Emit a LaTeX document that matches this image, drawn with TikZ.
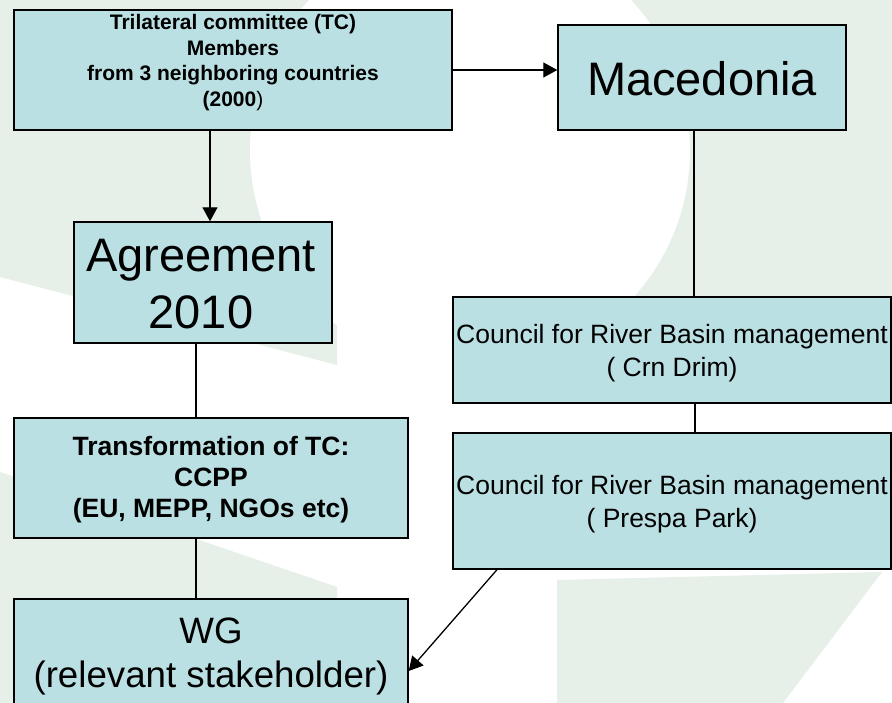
\documentclass[tikz,border=0pt]{standalone}
\usepackage{fontspec}
\setmainfont{Liberation Sans}
\usetikzlibrary{arrows.meta}
\definecolor{bggreen}{HTML}{E6F0E8}
\definecolor{boxfill}{HTML}{BBE0E3}
\begin{document}
\begin{tikzpicture}[x=1pt,y=-1pt,
  box/.style={draw=black, fill=boxfill, line width=1.4pt, inner sep=0pt},
  txt/.style={align=center, inner sep=0pt, text=black},
  link/.style={line width=1.3pt, draw=black},
  arr/.style={link, -{Triangle[length=14pt,width=15pt]}}]
\useasboundingbox (0,0) rectangle (892,703);
\clip (0,0) rectangle (892,703);
% background
\fill[white] (0,0) rectangle (892,703);
\fill[bggreen] (0,0) -- (337,0) -- (337,365) -- (0,277) -- cycle;
\fill[bggreen] (600,0) -- (892,0) -- (892,400) -- (600,400) -- cycle;
\fill[white] (470,150) circle[radius=220];
\fill[bggreen] (0,472) -- (337,587) -- (337,703) -- (0,703) -- cycle;
\fill[bggreen] (557,580) -- (882,572) -- (783,703) -- (557,703) -- cycle;
% boxes
\node[box, minimum width=438pt, minimum height=120pt] (tc) at (233,70) {};
\node[box, minimum width=288pt, minimum height=105pt] (mac) at (702,77.5) {};
\node[box, minimum width=258pt, minimum height=121pt] (ag) at (203,282.5) {};
\node[box, minimum width=394pt, minimum height=120pt] (tr) at (211,478) {};
\node[box, minimum width=394pt, minimum height=122pt] (wg) at (211,660) {};
\node[box, minimum width=438pt, minimum height=106pt] (crn) at (672,350) {};
\node[box, minimum width=438pt, minimum height=136pt] (pre) at (672,501) {};
% texts
\node[txt, font=\bfseries\fontsize{21}{25.4}\selectfont] (tcT) at (233,62.5)
  {Trilateral committee (TC)\\Members\\from 3 neighboring countries\\(2000\textmd{)}};
\node[txt, font=\fontsize{47}{56}\selectfont] (macT) at (702,79) {Macedonia};
\node[txt, font=\fontsize{47}{57}\selectfont] (agT) at (201,283.6) {Agreement\\2010};
\node[txt, font=\bfseries\fontsize{26.5}{31}\selectfont] (trT) at (211,479.2)
  {Transformation of TC:\\CCPP\\(EU, MEPP, NGOs etc)};
\node[txt, font=\fontsize{36.7}{44}\selectfont] (wgT) at (211,656.6) {WG\\(relevant stakeholder)};
\node[txt, font=\fontsize{26.5}{33}\selectfont] (crnT) at (672,353.6)
  {Council for River Basin management\\( Crn Drim)};
\node[txt, font=\fontsize{26.5}{33.5}\selectfont] (preT) at (672,503.9)
  {Council for River Basin management\\( Prespa Park)};
% connectors
\draw[arr] (tc.east) -- (tc.east -| mac.west);
\draw[arr] ([xshift=-23pt]tc.south) -- ([xshift=-23pt]tc.south |- ag.north);
\draw[link] ([xshift=-7pt]ag.south) -- ([xshift=-7pt]ag.south |- tr.north);
\draw[link] ([xshift=-15pt]tr.south) -- ([xshift=-15pt]tr.south |- wg.north);
\draw[link] ([xshift=-8pt]mac.south) -- ([xshift=-8pt]mac.south |- crn.north);
\draw[link] ([xshift=23pt]crn.south) -- ([xshift=23pt]crn.south |- pre.north);
\draw[arr] ([xshift=-175pt]pre.south) -- ([yshift=-11pt]wg.east);
\end{tikzpicture}
\end{document}
